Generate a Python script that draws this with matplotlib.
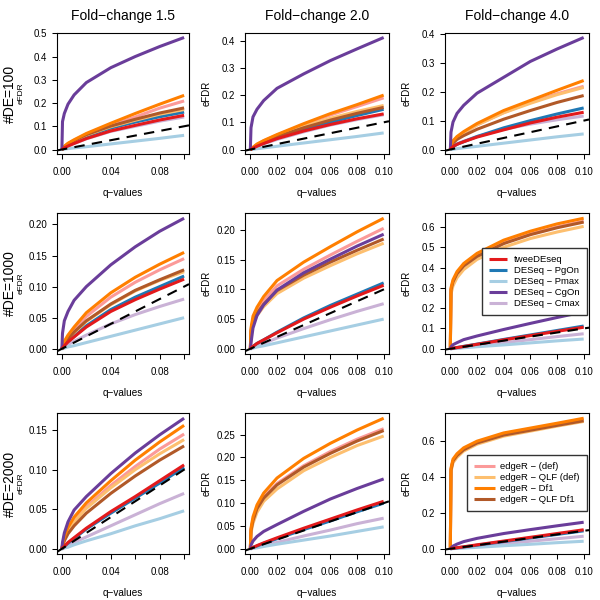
import numpy as np
import matplotlib.pyplot as plt

plt.rcParams['font.family'] = ['Liberation Sans', 'DejaVu Sans']

q = [0, 0.0005, 0.002, 0.005, 0.01, 0.02, 0.04, 0.06, 0.08, 0.1]

methods = ['tweeDEseq', 'DESeq \u2212 PgOn', 'DESeq \u2212 Pmax', 'DESeq \u2212 CgOn',
           'DESeq \u2212 Cmax', 'edgeR \u2212 (def)', 'edgeR \u2212 QLF (def)',
           'edgeR \u2212 Df1', 'edgeR \u2212 QLF Df1']
colors = ['#E31A1C', '#1F78B4', '#A6CEE3', '#6A3D9A', '#CAB2D6',
          '#FB9A99', '#FDBF6F', '#FF7F00', '#B15928']

fold_changes = ['1.5', '2.0', '4.0']
n_de = ['100', '1000', '2000']

# eFDR values, one row per method (same order as `methods`)
efdr_fc15_de100 = [
    [0, 0.002, 0.007, 0.015, 0.026, 0.047, 0.080, 0.104, 0.127, 0.147],
    [0, 0.002, 0.009, 0.020, 0.034, 0.058, 0.092, 0.118, 0.141, 0.161],
    [0, 0.000, 0.002, 0.004, 0.007, 0.012, 0.024, 0.036, 0.048, 0.061],
    [0, 0.120, 0.155, 0.195, 0.235, 0.288, 0.352, 0.400, 0.443, 0.482],
    [0, 0.002, 0.007, 0.015, 0.026, 0.046, 0.078, 0.100, 0.122, 0.140],
    [0, 0.003, 0.012, 0.025, 0.040, 0.066, 0.105, 0.140, 0.178, 0.209],
    [0, 0.003, 0.011, 0.023, 0.037, 0.062, 0.098, 0.126, 0.152, 0.172],
    [0, 0.004, 0.014, 0.027, 0.042, 0.069, 0.113, 0.155, 0.195, 0.233],
    [0, 0.003, 0.011, 0.024, 0.038, 0.064, 0.101, 0.130, 0.157, 0.179],
]
efdr_fc20_de100 = [
    [0, 0.001, 0.005, 0.012, 0.022, 0.040, 0.068, 0.092, 0.113, 0.131],
    [0, 0.001, 0.006, 0.014, 0.024, 0.042, 0.073, 0.100, 0.125, 0.148],
    [0, 0.000, 0.001, 0.003, 0.006, 0.012, 0.024, 0.036, 0.048, 0.061],
    [0, 0.080, 0.120, 0.148, 0.180, 0.225, 0.278, 0.327, 0.370, 0.412],
    [0, 0.001, 0.005, 0.012, 0.021, 0.037, 0.065, 0.090, 0.110, 0.128],
    [0, 0.002, 0.008, 0.019, 0.032, 0.053, 0.092, 0.127, 0.158, 0.190],
    [0, 0.002, 0.007, 0.017, 0.029, 0.050, 0.085, 0.115, 0.140, 0.162],
    [0, 0.002, 0.008, 0.020, 0.033, 0.055, 0.095, 0.132, 0.165, 0.200],
    [0, 0.002, 0.007, 0.016, 0.028, 0.047, 0.080, 0.108, 0.133, 0.155],
]
efdr_fc40_de100 = [
    [0, 0.004, 0.010, 0.018, 0.027, 0.043, 0.068, 0.092, 0.112, 0.129],
    [0, 0.004, 0.010, 0.018, 0.027, 0.045, 0.075, 0.100, 0.123, 0.144],
    [0, 0.000, 0.001, 0.003, 0.006, 0.011, 0.022, 0.033, 0.044, 0.054],
    [0, 0.060, 0.095, 0.125, 0.153, 0.195, 0.250, 0.305, 0.348, 0.388],
    [0, 0.005, 0.012, 0.020, 0.029, 0.045, 0.070, 0.088, 0.103, 0.116],
    [0, 0.012, 0.027, 0.042, 0.058, 0.085, 0.128, 0.163, 0.193, 0.219],
    [0, 0.013, 0.028, 0.043, 0.058, 0.085, 0.127, 0.160, 0.190, 0.215],
    [0, 0.015, 0.030, 0.045, 0.062, 0.090, 0.135, 0.170, 0.205, 0.239],
    [0, 0.010, 0.022, 0.035, 0.048, 0.070, 0.105, 0.135, 0.163, 0.187],
]
efdr_fc15_de1000 = [
    [0, 0.001, 0.005, 0.011, 0.019, 0.035, 0.060, 0.079, 0.096, 0.112],
    [0, 0.001, 0.005, 0.012, 0.020, 0.037, 0.063, 0.083, 0.100, 0.117],
    [0, 0.000, 0.001, 0.003, 0.005, 0.010, 0.020, 0.030, 0.040, 0.050],
    [0, 0.025, 0.045, 0.060, 0.078, 0.100, 0.135, 0.164, 0.189, 0.210],
    [0, 0.001, 0.003, 0.007, 0.012, 0.022, 0.040, 0.055, 0.068, 0.080],
    [0, 0.003, 0.010, 0.019, 0.031, 0.052, 0.083, 0.107, 0.127, 0.145],
    [0, 0.002, 0.008, 0.016, 0.026, 0.044, 0.071, 0.093, 0.110, 0.124],
    [0, 0.004, 0.012, 0.022, 0.035, 0.058, 0.090, 0.115, 0.136, 0.155],
    [0, 0.002, 0.008, 0.016, 0.027, 0.045, 0.072, 0.094, 0.111, 0.127],
]
efdr_fc20_de1000 = [
    [0, 0.001, 0.004, 0.009, 0.015, 0.027, 0.050, 0.070, 0.089, 0.107],
    [0, 0.001, 0.004, 0.009, 0.015, 0.028, 0.052, 0.073, 0.092, 0.111],
    [0, 0.000, 0.001, 0.003, 0.005, 0.010, 0.020, 0.030, 0.040, 0.050],
    [0, 0.010, 0.035, 0.056, 0.074, 0.099, 0.128, 0.151, 0.173, 0.193],
    [0, 0.000, 0.002, 0.005, 0.009, 0.018, 0.034, 0.049, 0.063, 0.076],
    [0, 0.030, 0.050, 0.064, 0.081, 0.106, 0.134, 0.158, 0.181, 0.203],
    [0, 0.028, 0.044, 0.056, 0.071, 0.093, 0.119, 0.140, 0.160, 0.178],
    [0, 0.035, 0.055, 0.070, 0.088, 0.115, 0.146, 0.172, 0.197, 0.220],
    [0, 0.030, 0.047, 0.060, 0.075, 0.098, 0.124, 0.146, 0.166, 0.185],
]
efdr_fc40_de1000 = [
    [0, 0.001, 0.003, 0.006, 0.011, 0.022, 0.044, 0.065, 0.086, 0.106],
    [0, 0.001, 0.003, 0.006, 0.012, 0.023, 0.046, 0.068, 0.090, 0.112],
    [0, 0.000, 0.001, 0.002, 0.005, 0.010, 0.019, 0.029, 0.039, 0.048],
    [0, 0.010, 0.020, 0.030, 0.045, 0.063, 0.095, 0.125, 0.154, 0.182],
    [0, 0.000, 0.002, 0.004, 0.007, 0.015, 0.030, 0.045, 0.060, 0.074],
    [0, 0.290, 0.330, 0.370, 0.410, 0.458, 0.522, 0.565, 0.600, 0.628],
    [0, 0.270, 0.310, 0.350, 0.390, 0.440, 0.500, 0.543, 0.575, 0.603],
    [0, 0.300, 0.340, 0.380, 0.420, 0.470, 0.535, 0.579, 0.615, 0.643],
    [0, 0.290, 0.330, 0.370, 0.408, 0.455, 0.518, 0.562, 0.596, 0.624],
]
efdr_fc15_de2000 = [
    [0, 0.001, 0.003, 0.008, 0.014, 0.026, 0.047, 0.066, 0.086, 0.106],
    [0, 0.001, 0.003, 0.007, 0.013, 0.025, 0.045, 0.064, 0.083, 0.103],
    [0, 0.000, 0.001, 0.002, 0.005, 0.010, 0.019, 0.029, 0.038, 0.048],
    [0, 0.008, 0.020, 0.034, 0.049, 0.066, 0.095, 0.121, 0.144, 0.165],
    [0, 0.000, 0.002, 0.004, 0.008, 0.015, 0.029, 0.043, 0.057, 0.070],
    [0, 0.004, 0.012, 0.023, 0.035, 0.053, 0.080, 0.104, 0.126, 0.145],
    [0, 0.004, 0.012, 0.022, 0.034, 0.051, 0.077, 0.100, 0.120, 0.138],
    [0, 0.005, 0.015, 0.027, 0.040, 0.058, 0.086, 0.112, 0.135, 0.156],
    [0, 0.003, 0.010, 0.019, 0.029, 0.045, 0.070, 0.092, 0.112, 0.130],
]
efdr_fc20_de2000 = [
    [0, 0.001, 0.003, 0.007, 0.013, 0.024, 0.045, 0.065, 0.085, 0.104],
    [0, 0.001, 0.003, 0.006, 0.012, 0.022, 0.042, 0.061, 0.081, 0.100],
    [0, 0.000, 0.001, 0.002, 0.005, 0.010, 0.019, 0.028, 0.038, 0.048],
    [0, 0.008, 0.017, 0.027, 0.038, 0.053, 0.082, 0.109, 0.132, 0.153],
    [0, 0.000, 0.002, 0.004, 0.007, 0.014, 0.028, 0.041, 0.055, 0.067],
    [0, 0.042, 0.064, 0.090, 0.113, 0.143, 0.182, 0.213, 0.240, 0.263],
    [0, 0.035, 0.056, 0.080, 0.104, 0.131, 0.171, 0.200, 0.226, 0.247],
    [0, 0.045, 0.070, 0.096, 0.122, 0.155, 0.198, 0.231, 0.260, 0.286],
    [0, 0.040, 0.062, 0.088, 0.111, 0.140, 0.179, 0.209, 0.236, 0.259],
]
efdr_fc40_de2000 = [
    [0, 0.001, 0.003, 0.006, 0.011, 0.022, 0.043, 0.064, 0.085, 0.106],
    [0, 0.001, 0.002, 0.005, 0.010, 0.020, 0.040, 0.060, 0.080, 0.100],
    [0, 0.000, 0.001, 0.002, 0.004, 0.008, 0.017, 0.025, 0.034, 0.042],
    [0, 0.005, 0.015, 0.026, 0.040, 0.058, 0.085, 0.107, 0.128, 0.148],
    [0, 0.000, 0.002, 0.004, 0.007, 0.014, 0.028, 0.042, 0.056, 0.070],
    [0, 0.440, 0.490, 0.520, 0.555, 0.592, 0.637, 0.665, 0.692, 0.720],
    [0, 0.430, 0.480, 0.510, 0.545, 0.583, 0.628, 0.656, 0.684, 0.710],
    [0, 0.450, 0.500, 0.530, 0.563, 0.600, 0.646, 0.673, 0.700, 0.728],
    [0, 0.440, 0.490, 0.520, 0.552, 0.590, 0.634, 0.661, 0.688, 0.714],
]

panels = [[efdr_fc15_de100, efdr_fc20_de100, efdr_fc40_de100],
          [efdr_fc15_de1000, efdr_fc20_de1000, efdr_fc40_de1000],
          [efdr_fc15_de2000, efdr_fc20_de2000, efdr_fc40_de2000]]

# y tick step and label format per panel
ystep = [[0.1, 0.1, 0.1], [0.05, 0.05, 0.1], [0.05, 0.05, 0.2]]
yfmt = [['%.1f', '%.1f', '%.1f'], ['%.2f', '%.2f', '%.1f'], ['%.2f', '%.2f', '%.1f']]

# pixel boxes of the panels (600x600 canvas)
col_px = [(57, 189), (245, 389), (445, 589)]
row_px = [(33, 154), (213, 354), (413, 554)]

draw_order = [4, 2, 1, 5, 6, 8, 7, 3, 0]

fig = plt.figure(figsize=(6, 6), dpi=100)

axes = {}
for r in range(3):
    top, bot = row_px[r]
    for c in range(3):
        left, right = col_px[c]
        w, h = right - left, bot - top
        ax = fig.add_axes([left / 600, 1 - bot / 600, w / 600, h / 600])
        axes[(r, c)] = ax
        data = np.array(panels[r][c])
        for i in draw_order:
            ax.plot(q, data[i], color=colors[i], lw=2.2, solid_capstyle='butt',
                    label=methods[i])
        ax.axline((0, 0), slope=1, color='black', lw=1.5, linestyle=(0, (5, 3.5)))

        ymax = data.max()
        ax.set_xlim(-0.004, 0.104)
        ax.set_ylim(-0.04 * ymax, 1.04 * ymax)

        xt = np.arange(0, 0.1001, 0.02)
        ax.set_xticks(xt)
        if c == 0:
            ax.set_xticklabels(['0.00', '', '0.04', '', '0.08', ''])
        else:
            ax.set_xticklabels(['%.2f' % v for v in xt])
        yt = np.arange(0, 1.04 * ymax, ystep[r][c])
        ax.set_yticks(yt)
        ax.set_yticklabels([yfmt[r][c] % v for v in yt])

        ax.tick_params(axis='both', direction='out', length=3.6, width=0.75,
                       labelsize=7, color='black')
        ax.tick_params(axis='x', pad=6)
        ax.tick_params(axis='y', pad=3.5)
        for s in ax.spines.values():
            s.set_linewidth(0.8)

        ax.set_xlabel('q\u2212values', fontsize=7.2, va='center')
        ax.xaxis.set_label_coords(0.5, -39 / h)
        if c == 0:
            ax.set_ylabel('eFDR', fontsize=6, va='center')
            ax.yaxis.set_label_coords(-36 / w, 0.5)
        else:
            ax.set_ylabel('eFDR', fontsize=7, va='center')
            ax.yaxis.set_label_coords(-38 / w, 0.5)

        if r == 0:
            ax.set_title('Fold\u2212change ' + fold_changes[c], fontsize=10, pad=9.5)

    fig.text(10 / 600, 1 - (top + bot) / 2 / 600, '#DE=' + n_de[r], rotation=90,
             ha='center', va='center', fontsize=10)

# legends: DESeq / tweeDEseq in one panel, edgeR variants in another
ax = axes[(1, 2)]
h, l = ax.get_legend_handles_labels()
lut = dict(zip(l, h))
ax.legend([lut[m] for m in methods[:5]], methods[:5], loc='upper right',
          bbox_to_anchor=(0.986, 0.752), fontsize=6.8, handlelength=1.9,
          handletextpad=0.8, borderpad=0.75, labelspacing=0.22, borderaxespad=0,
          fancybox=False, framealpha=1, edgecolor='#333333')

ax = axes[(2, 2)]
h, l = ax.get_legend_handles_labels()
lut = dict(zip(l, h))
ax.legend([lut[m] for m in methods[5:]], methods[5:], loc='upper right',
          bbox_to_anchor=(0.986, 0.702), fontsize=6.8, handlelength=2.2,
          handletextpad=0.6, borderpad=0.75, labelspacing=0.22, borderaxespad=0,
          fancybox=False, framealpha=1, edgecolor='#333333')

fig.savefig('out.png', dpi=100)
